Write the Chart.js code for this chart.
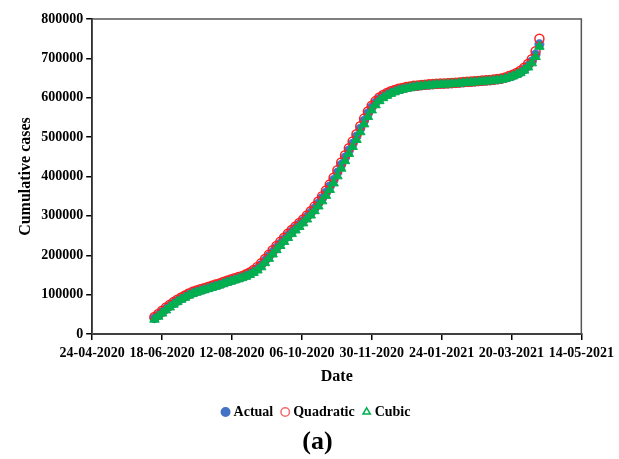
<!DOCTYPE html>
<html>
<head>
<meta charset="utf-8">
<script src="https://cdn.jsdelivr.net/npm/chart.js@4.4.1/dist/chart.umd.min.js"></script>
<style>
  html, body { margin: 0; padding: 0; background: #fff; }
  #wrap { width: 619px; height: 459px; }
</style>
</head>
<body>
<div id="wrap"><canvas id="chart"></canvas></div>
<script>
// x axis: days since 24-04-2020, ticks every 55 days
const xTickLabels = ["24-04-2020", "18-06-2020", "12-08-2020", "06-10-2020",
  "30-11-2020", "24-01-2021", "20-03-2021", "14-05-2021"];
const tickStep = 55;
const firstDay = 49;   // 12-06-2020
const dayStep = 3;

const actual = [
  40000, 47500, 55500, 63500, 71000, 78000, 84000, 90000, 95000, 100500,
  104500, 108000, 111000, 114000, 117000, 120000, 123000, 126000, 129500, 133000,
  136000, 139000, 142000, 145000, 149000, 153500, 159000, 166000, 175000, 186000,
  197000, 208000, 219000, 229500, 240000, 250000, 260000, 269000, 278000, 287000,
  297000, 307500, 319000, 331500, 345000, 359000, 374500, 391000, 410000, 429500,
  448000, 466000, 483000, 501500, 521500, 541500, 560000, 575500, 587500, 597000,
  604000, 609500, 614000, 618000, 621000, 623500, 625500, 627500, 629000, 630000,
  631200, 632200, 633000, 633800, 634500, 635100, 635500, 636000, 636500, 637200,
  638000, 638800, 639500, 640200, 641000, 641800, 642500, 643200, 644000, 645000,
  646200, 647700, 650000, 653000, 656500, 660500, 665000, 672000, 681000, 692000,
  710000, 736000
];

const quadratic = [
  43000, 51000, 59000, 67000, 74000, 81000, 87000, 93000, 98000, 103000,
  107000, 110500, 113500, 116500, 119500, 122500, 125500, 128500, 132000, 135500,
  138500, 141500, 144500, 147500, 151500, 156500, 162500, 170000, 179500, 190500,
  201500, 212500, 223500, 234000, 244500, 254500, 264000, 273000, 282000, 291000,
  301000, 312000, 323500, 336500, 350000, 364500, 380000, 397000, 416000, 435500,
  454000, 472000, 489000, 507500, 527500, 547000, 565000, 580000, 591500, 600500,
  607000, 612000, 616500, 620000, 623000, 625000, 627000, 628800, 630200, 631200,
  632300, 633300, 634000, 634800, 635500, 636100, 636500, 637000, 637500, 638200,
  639000, 639800, 640500, 641200, 642000, 642800, 643500, 644300, 645100, 646200,
  647500, 649200, 651700, 655000, 658700, 663000, 668500, 676000, 686000, 698000,
  718000, 750000
];

const cubic = [
  37000, 44500, 52500, 60500, 68000, 75000, 81500, 87500, 92500, 98000,
  102000, 105500, 108500, 111500, 114500, 117500, 120500, 123500, 127000, 130500,
  133500, 136500, 139500, 142500, 146000, 150500, 155500, 162000, 170000, 180500,
  191500, 202500, 213500, 224000, 234500, 244500, 254500, 263500, 272500, 281500,
  291500, 301500, 312500, 324500, 337500, 351500, 366500, 383000, 401000, 420500,
  439500, 458000, 475500, 493500, 513000, 533000, 552000, 568500, 581500, 592000,
  599500, 605500, 610500, 614500, 618000, 621000, 623000, 625000, 627000, 628200,
  629400, 630400, 631300, 632100, 632900, 633500, 634000, 634500, 635000, 635700,
  636500, 637300, 638000, 638700, 639500, 640300, 641000, 641700, 642500, 643400,
  644500, 646000, 648000, 651000, 654500, 658500, 663000, 669500, 677500, 688000,
  704000, 730000
];

function toPoints(values) {
  return values.map((v, i) => ({ x: firstDay + i * dayStep, y: v }));
}

const serif = "'Liberation Serif', 'Times New Roman', serif";

// frame round the plot area (top/right edges)
const frame = {
  id: "frame",
  beforeDatasetsDraw(chart) {
    const a = chart.chartArea, ctx = chart.ctx;
    ctx.save();
    ctx.strokeStyle = "#555";
    ctx.lineWidth = 1.5;
    ctx.strokeRect(a.left, a.top, a.right - a.left, a.bottom - a.top);
    ctx.restore();
  }
};

const legendStyle = [
  { text: "Actual", pointStyle: "circle", fillStyle: "#4472C4", strokeStyle: "#4472C4" },
  { text: "Quadratic", pointStyle: "circle", fillStyle: "#fff", strokeStyle: "#F26B6B" },
  { text: "Cubic", pointStyle: "triangle", fillStyle: "#fff", strokeStyle: "#00B050" }
];

new Chart(document.getElementById("chart"), {
  type: "scatter",
  data: {
    datasets: [
      {
        label: "Actual",
        data: toPoints(actual),
        pointStyle: "circle",
        pointRadius: 4.5,
        backgroundColor: "#4472C4",
        borderColor: "#4472C4",
        order: 3
      },
      {
        label: "Quadratic",
        data: toPoints(quadratic),
        pointStyle: "circle",
        pointRadius: 4.5,
        backgroundColor: "rgba(255,255,255,0)",
        borderColor: "#FF2020",
        borderWidth: 1.5,
        order: 2
      },
      {
        label: "Cubic",
        data: toPoints(cubic),
        pointStyle: "triangle",
        pointRadius: 5.5,
        backgroundColor: "#00B050",
        borderColor: "#00B050",
        borderWidth: 1,
        order: 1
      }
    ]
  },
  plugins: [frame],
  options: {
    responsive: true,
    maintainAspectRatio: false,
    animation: false,
    layout: { padding: { left: 16, right: 0, top: 19, bottom: 2 } },
    scales: {
      x: {
        type: "linear",
        min: 0,
        max: tickStep * (xTickLabels.length - 1),
        afterBuildTicks: (scale) => {
          scale.ticks = xTickLabels.map((_, i) => ({ value: i * tickStep }));
        },
        ticks: {
          autoSkip: false,
          maxRotation: 0,
          color: "#000",
          padding: 5,
          font: { family: serif, size: 14, weight: "bold" },
          callback: (v) => xTickLabels[Math.round(v / tickStep)]
        },
        grid: { drawOnChartArea: false, drawTicks: true, tickLength: 6, color: "#000", lineWidth: 1.5 },
        border: { color: "#000", width: 2 },
        title: {
          display: true,
          text: "Date",
          color: "#000",
          padding: { top: 0, bottom: 8 },
          font: { family: serif, size: 16, weight: "bold" }
        }
      },
      y: {
        min: 0,
        max: 800000,
        ticks: {
          stepSize: 100000,
          color: "#000",
          padding: 3,
          font: { family: serif, size: 14, weight: "bold" },
          callback: (v) => String(v)
        },
        grid: { drawOnChartArea: false, drawTicks: true, tickLength: 6, color: "#000", lineWidth: 1.5 },
        border: { color: "#000", width: 2 },
        title: {
          display: true,
          text: "Cumulative cases",
          color: "#000",
          padding: { top: 0, bottom: 3 },
          font: { family: serif, size: 16, weight: "bold" }
        }
      }
    },
    plugins: {
      tooltip: { enabled: false },
      legend: {
        position: "bottom",
        labels: {
          usePointStyle: true,
          boxWidth: 2,
          boxHeight: 6,
          padding: 11,
          color: "#000",
          font: { family: serif, size: 14, weight: "bold" },
          generateLabels: () => legendStyle.map((s, i) => ({
            text: s.text,
            pointStyle: s.pointStyle,
            fillStyle: s.fillStyle,
            strokeStyle: s.strokeStyle,
            lineWidth: 1.5,
            fontColor: "#000",
            datasetIndex: i,
            hidden: false
          }))
        }
      },
      title: {
        display: true,
        position: "bottom",
        text: "(a)",
        color: "#000",
        padding: { top: 0, bottom: 2 },
        font: { family: serif, size: 26, weight: "bold", lineHeight: 1 }
      }
    }
  }
});
</script>
</body>
</html>
